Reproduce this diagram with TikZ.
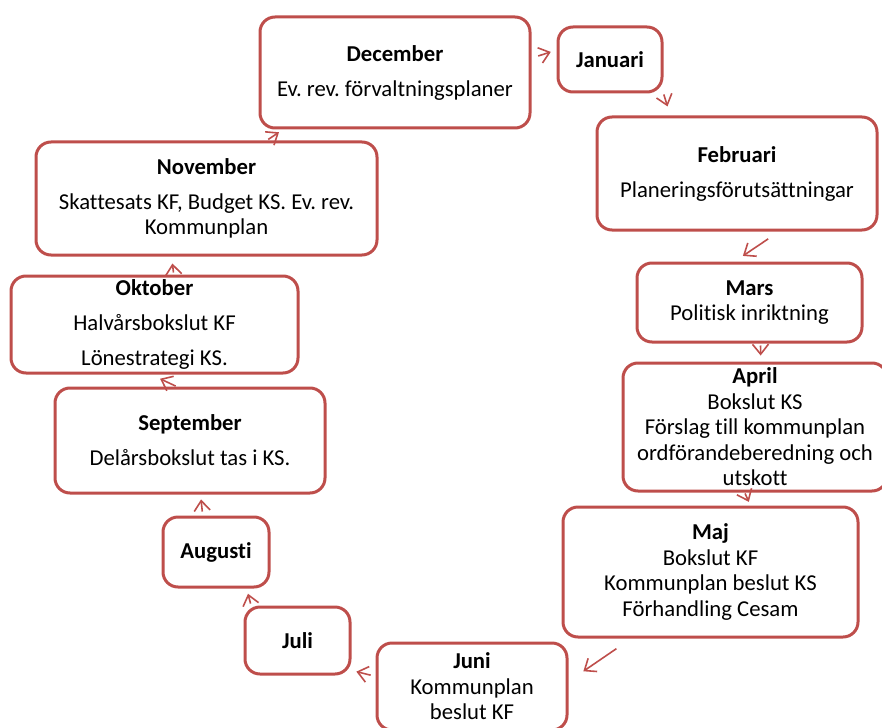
\documentclass[tikz,border=0pt]{standalone}
\usepackage{fontspec}
\setmainfont{Carlito}[Ligatures=NoCommon]
\usetikzlibrary{arrows.meta}
\definecolor{boxred}{RGB}{190,78,75}
\frenchspacing

\begin{document}
\begin{tikzpicture}[x=0.5pt, y=-0.5pt,
  month/.style={draw=boxred, line width=1.5pt, rounded corners=7.5pt, fill=white,
    inner sep=0pt, align=center, font=\fontsize{11.35}{12.75}\selectfont},
  flow/.style={->, boxred, line width=0.8pt},
  >={Straight Barb[length=5pt,width=8pt]}]
  \useasboundingbox (0,0) rectangle (882,727);

  % Months
  \node[month, minimum width=135pt, minimum height=55.5pt] (dec) at (395,72.5)
    {\textbf{December}\\[4.75pt] Ev. rev. förvaltningsplaner};
  \node[month, minimum width=52pt, minimum height=32.5pt] (jan) at (610,59.5) {\textbf{Januari}};
  \node[month, minimum width=140pt, minimum height=56.5pt] (feb) at (737,173.5)
    {\textbf{Februari}\\[4.75pt] Planeringsförutsättningar};
  \node[month, minimum width=112.5pt, minimum height=39.5pt] (mars) at (749.5,302.5)
    {\textbf{Mars}\\ Politisk inriktning};
  \node[month, minimum width=132pt, minimum height=64pt] (apr) at (755,427)
    {\textbf{April}\\ Bokslut KS\\ Förslag till kommunplan\\ ordförandeberedning och\\ utskott};
  \node[month, minimum width=147.5pt, minimum height=65pt] (maj) at (710.5,572)
    {\textbf{Maj}\\ Bokslut KF\\ Kommunplan beslut KS\\ Förhandling Cesam};
  \node[month, minimum width=95pt, minimum height=43.5pt] (juni) at (472,686.5)
    {\textbf{Juni}\\ Kommunplan\\ beslut KF};
  \node[month, minimum width=52.5pt, minimum height=33.5pt] (juli) at (297.5,640.5) {\textbf{Juli}};
  \node[month, minimum width=53pt, minimum height=35pt] (aug) at (216,552) {\textbf{Augusti}};
  \node[month, minimum width=135pt, minimum height=52.5pt] (sep) at (190,440.5)
    {\textbf{September}\\[4.75pt] Delårsbokslut tas i KS.};
  \node[month, minimum width=143.5pt, minimum height=48.5pt] (okt) at (154.5,324.5)
    {\textbf{Oktober}\\[4.75pt] Halvårsbokslut KF\\[4.75pt] Lönestrategi KS.};
  \node[month, minimum width=170.5pt, minimum height=56.5pt] (nov) at (206.5,198.5)
    {\textbf{November}\\[4.75pt] Skattesats KF, Budget KS. Ev. rev.\\ Kommunplan};

  % Arrows
  \draw[flow, shorten <=3.5pt, shorten >=3pt] (dec.6) -- (jan.170);
  \draw[flow, shorten <=0.5pt, shorten >=4.75pt] (jan.south east) -- (feb.139);
  \draw[flow, shorten <=6.6pt, shorten >=5pt] (feb.306) -- (mars.110);
  \draw[flow, shorten <=1pt, shorten >=3pt] (mars.285) -- (apr.85);
  \draw[flow, shorten <=0.5pt, shorten >=2pt] (apr.261) -- (maj.59);
  \draw[flow, shorten <=9pt, shorten >=9pt] (maj.220) -- (juni.3);
  \draw[flow, shorten <=2.5pt, shorten >=2.5pt] (juni.174) -- (juli.331);
  \draw[flow, shorten <=1pt, shorten >=2.7pt] (juli.143) -- (aug.310);
  \draw[flow, shorten <=2pt, shorten >=2.5pt] (aug.110) -- (sep.281);
  \draw[flow, shorten <=0.5pt, shorten >=5pt] (sep.104) -- (okt.266);
  \draw[flow, shorten <=1pt, shorten >=3.5pt] (okt.69) -- (nov.239);
  \draw[flow, shorten <=1pt, shorten >=2.5pt] (nov.44) -- (dec.207);
\end{tikzpicture}
\end{document}
